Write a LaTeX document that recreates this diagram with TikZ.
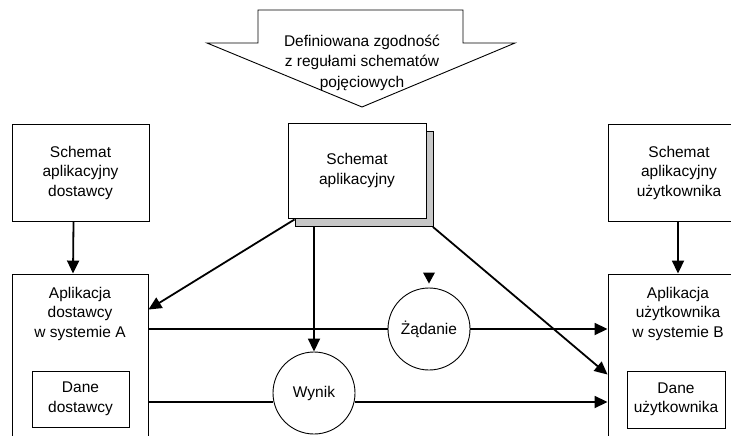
\documentclass[tikz,border=0pt]{standalone}
\usepackage{fontspec}
\setmainfont{Liberation Sans}
\usetikzlibrary{arrows.meta,calc,shadows}

\begin{document}
\begin{tikzpicture}[x=1pt,y=-1pt,
  box/.style={draw, line width=0.9pt, fill=white, inner sep=0pt},
  txt/.style={align=center, font=\fontsize{15.5}{19.5}\selectfont},
  flow/.style={line width=1.8pt, -{Triangle[length=13pt,width=12pt]}},
  link/.style={line width=1.8pt},
  bubble/.style={circle, draw, line width=0.9pt, fill=white, minimum size=82pt, inner sep=0pt, font=\fontsize{15.5}{19.5}\selectfont}]

\useasboundingbox (0,0) rectangle (731,436);
\clip (0,0) rectangle (731,436);

% block arrow with the conformance note
\draw[line width=0.9pt, fill=white]
  (258,10) -- (463,10) -- (463,43) -- (515,43) -- (362,107) -- (207,43) -- (258,43) -- cycle;
\node[align=center, font=\fontsize{15.5}{20.5}\selectfont] (conf) at (362,62.5)
  {Definiowana zgodność\\z regułami schematów\\pojęciowych};

% application schemas
\node[box, txt, minimum width=137pt, minimum height=97pt] (schA) at (80.5,172.5)
  {Schemat\\aplikacyjny\\dostawcy};
\node[box, txt, minimum width=142pt, minimum height=97pt] (schB) at (679,172.5)
  {Schemat\\aplikacyjny\\użytkownika};
\node[box, txt, minimum width=138pt, minimum height=95pt,
  drop shadow={shadow xshift=7pt, shadow yshift=-8.5pt, fill=black!22, draw=black, line width=0.9pt, opacity=1}]
  (sch) at (357,170.5) {Schemat\\aplikacyjny};

% applications and their data
\node[box, minimum width=136pt, minimum height=196pt] (appA) at (80,372) {};
\node[txt] (appAt) at (80,313.5) {Aplikacja\\dostawcy\\w systemie A};
\node[box, txt, minimum width=97pt, minimum height=56pt] (daneA) at (80.5,399) {Dane\\dostawcy};

\node[box, minimum width=140pt, minimum height=196pt] (appB) at (678,372) {};
\node[txt] (appBt) at (678,313.5) {Aplikacja\\użytkownika\\w systemie B};
\node[box, txt, minimum width=98pt, minimum height=57pt] (daneB) at (676,399.5) {Dane\\użytkownika};

% exchanged messages
\node[bubble] (zad) at (429,329) {Żądanie};
\node[bubble] (wyn) at (314,393) {Wynik};

% connectors
\coordinate (dl) at (0,402);
\coordinate (shb) at ($(sch.south)+(0,8.5)$);

\draw[flow] ([xshift=-7pt]schA.south) -- ([xshift=-7pt]appA.north);
\draw[flow] (schB.south -| appBt) -- (appB.north -| appBt);

\draw[link] (appA.east |- zad) -- (zad.west);
\draw[flow] (zad.east) -- (appB.west |- zad);

\draw[link] (appA.east |- dl) -- (wyn.west |- dl);
\draw[flow] (wyn.east |- dl) -- (appB.west |- dl);

\draw[flow] ($(sch.south west)+(7,1)$) -- ([yshift=-36pt]appA.north east);
\draw[flow] (wyn.north |- shb) -- (wyn.north);
\draw[flow] ($(sch.south east)+(6.5,8.5)$) -- ([yshift=-101pt]appB.north west);

% incoming request marker
\fill ($(zad.north)+(0,-4)$) -- ++(-6,-11) -- ++(12,0) -- cycle;

\end{tikzpicture}
\end{document}
